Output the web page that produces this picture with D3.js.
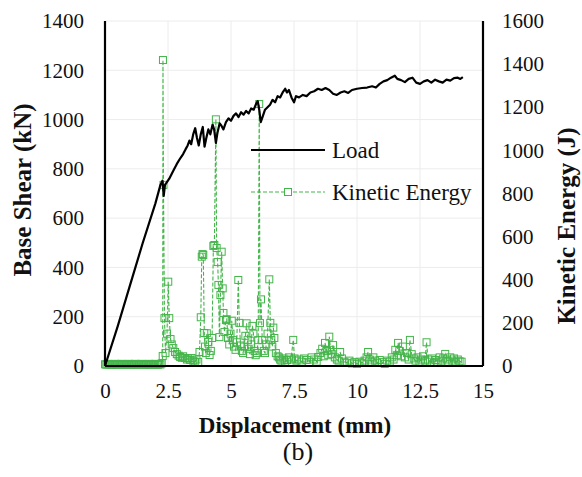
<!DOCTYPE html>
<html>
<head>
<meta charset="utf-8">
<script src="https://cdn.jsdelivr.net/npm/d3@7"></script>
<style>
  body { margin: 0; background: #fff; }
  svg text { font-family: "Liberation Serif", "Times New Roman", serif !important; fill: #111; }
</style>
</head>
<body>
<svg id="svg" width="582" height="477"></svg>
<script>
// load curve (displacement mm, base shear kN)
const loadX = [0, 0.5, 1.0, 1.5, 2.0, 2.2, 2.28, 2.33, 2.38, 2.45, 2.55, 2.7, 2.85, 3.0, 3.1, 3.2, 3.28, 3.35, 3.42, 3.5, 3.58, 3.65, 3.72, 3.8, 3.88, 3.95, 4.02, 4.1, 4.18, 4.27, 4.33, 4.4, 4.46, 4.55, 4.62, 4.7, 4.8, 4.9, 5.0, 5.1, 5.2, 5.3, 5.4, 5.5, 5.6, 5.7, 5.8, 5.9, 6.0, 6.06, 6.12, 6.18, 6.25, 6.35, 6.45, 6.55, 6.65, 6.75, 6.85, 6.95, 7.05, 7.15, 7.22, 7.3, 7.4, 7.5, 7.58, 7.7, 7.85, 8.0, 8.15, 8.3, 8.45, 8.6, 8.75, 8.9, 9.05, 9.2, 9.35, 9.5, 9.65, 9.8, 10.0, 10.2, 10.4, 10.6, 10.75, 10.9, 11.05, 11.2, 11.35, 11.5, 11.6, 11.75, 11.9, 12.05, 12.2, 12.35, 12.5, 12.65, 12.8, 12.95, 13.1, 13.25, 13.4, 13.55, 13.7, 13.85, 14.0, 14.1, 14.2];
const loadY = [0, 160, 330, 500, 660, 735, 752, 690, 735, 745, 760, 790, 820, 845, 860, 880, 895, 915, 900, 940, 965, 925, 895, 940, 970, 890, 925, 960, 940, 980, 960, 905, 945, 985, 975, 960, 990, 1005, 995, 1015, 1025, 1010, 1030, 1020, 1035, 1025, 1045, 1040, 1065, 1075, 1040, 990, 1010, 1040, 1050, 1060, 1080, 1070, 1095, 1090, 1110, 1125, 1110, 1120, 1090, 1070, 1095, 1090, 1100, 1095, 1110, 1115, 1125, 1120, 1128, 1120, 1105, 1100, 1110, 1115, 1108, 1120, 1125, 1128, 1130, 1135, 1130, 1145, 1155, 1160, 1170, 1178, 1165, 1160, 1152, 1165, 1170, 1150, 1145, 1155, 1160, 1150, 1162, 1155, 1150, 1162, 1158, 1168, 1170, 1165, 1172];

// kinetic energy (displacement mm, J)
const keX = [0, 0.05, 0.1, 0.15, 0.2, 0.25, 0.3, 0.35, 0.4, 0.45, 0.5, 0.55, 0.6, 0.65, 0.7, 0.75, 0.8, 0.85, 0.9, 0.95, 1.0, 1.05, 1.1, 1.15, 1.2, 1.25, 1.3, 1.35, 1.4, 1.45, 1.5, 1.55, 1.6, 1.65, 1.7, 1.75, 1.8, 1.85, 1.9, 1.95, 2.0, 2.05, 2.1, 2.15, 2.2, 2.25,
  2.29, 2.3, 2.32, 2.36, 2.4, 2.46, 2.51, 2.55, 2.6, 2.65, 2.71, 2.78, 2.85, 2.92, 2.98, 3.05, 3.1, 3.17, 3.25, 3.3, 3.38, 3.44, 3.5, 3.56, 3.63, 3.7, 3.75, 3.8, 3.84, 3.87, 3.9, 3.94, 3.97, 4.0, 4.04, 4.1, 4.15, 4.2, 4.25, 4.3, 4.34, 4.4, 4.43, 4.47, 4.5, 4.54, 4.58, 4.63, 4.67, 4.7, 4.74, 4.8, 4.83, 4.88, 4.93, 4.98, 5.03, 5.08, 5.12, 5.18, 5.23, 5.29, 5.33, 5.38, 5.43, 5.48, 5.52, 5.57, 5.62, 5.66, 5.7, 5.75, 5.8, 5.85, 5.89, 5.94, 5.98, 6.03, 6.08, 6.12, 6.15, 6.19, 6.24, 6.3, 6.35, 6.4, 6.45, 6.52, 6.56, 6.6, 6.64, 6.68, 6.72, 6.78, 6.85, 6.9, 6.95, 7.0, 7.08, 7.15, 7.22, 7.3, 7.38, 7.47, 7.52, 7.6, 7.7, 7.8, 7.9, 8.0, 8.1, 8.2, 8.3, 8.4, 8.46, 8.55, 8.62, 8.68, 8.73, 8.8, 8.86, 8.9, 8.95, 9.0, 9.05, 9.12, 9.2, 9.27, 9.33, 9.4, 9.5, 9.6, 9.7, 9.8, 9.9, 10.0, 10.1, 10.2, 10.3, 10.38, 10.44, 10.5, 10.58, 10.65, 10.72, 10.8, 10.9, 11.0, 11.1, 11.2, 11.3, 11.38, 11.45, 11.52, 11.58, 11.63, 11.68, 11.75, 11.82, 11.9, 11.98, 12.05, 12.1, 12.17, 12.25, 12.32, 12.4, 12.48, 12.55, 12.62, 12.7, 12.76, 12.82, 12.9, 12.98, 13.05, 13.12, 13.2, 13.28, 13.35, 13.42, 13.5, 13.56, 13.62, 13.7, 13.78, 13.85, 13.92, 14.0, 14.07, 14.15];
const keY = [8, 6, 10, 7, 9, 6, 8, 7, 10, 6, 8, 9, 7, 10, 6, 8, 9, 7, 8, 10, 6, 9, 7, 8, 10, 6, 8, 9, 7, 10, 8, 6, 9, 7, 8, 10, 6, 8, 9, 7, 10, 8, 6, 9, 7, 12,
  46, 1419, 840, 222, 60, 150, 391, 222, 125, 100, 83, 65, 55, 48, 42, 38, 45, 37, 30, 35, 28, 37, 25, 20, 30, 19, 65, 226, 507, 519, 515, 153, 90, 60, 152, 111, 51, 70, 130, 557, 561, 1144, 547, 482, 376, 134, 329, 530, 360, 246, 158, 213, 217, 130, 100, 150, 210, 120, 90, 75, 110, 399, 200, 95, 70, 60, 90, 140, 198, 120, 80, 55, 100, 186, 150, 70, 50, 60, 120, 1215, 199, 309, 120, 70, 60, 100, 150, 402, 200, 120, 90, 178, 130, 60, 45, 40, 30, 25, 35, 20, 28, 40, 30, 121, 35, 25, 30, 20, 35, 28, 18, 40, 30, 20, 42, 60, 80, 45, 107, 70, 50, 136, 75, 55, 97, 40, 30, 25, 65, 35, 20, 15, 25, 12, 18, 10, 20, 15, 25, 40, 65, 30, 20, 40, 25, 15, 28, 18, 10, 25, 20, 40, 30, 75, 50, 107, 70, 45, 90, 40, 60, 30, 121, 55, 35, 25, 40, 20, 30, 45, 25, 110, 30, 20, 35, 15, 28, 20, 40, 25, 35, 56, 30, 20, 40, 25, 35, 18, 30, 22, 20];

const xTicks = [0, 2.5, 5, 7.5, 10, 12.5, 15];
const xTickLabels = ["0", "2.5", "5", "7.5", "10", "12.5", "15"];
const leftTicks = [0, 200, 400, 600, 800, 1000, 1200, 1400];
const rightTicks = [0, 200, 400, 600, 800, 1000, 1200, 1400, 1600];

const green = "#44b54a";
const svg = d3.select("#svg");
const pLeft = 105, pRight = 483, pTop = 21, pBottom = 366;

const x = d3.scaleLinear().domain([0, 15]).range([pLeft, pRight]);
const yL = d3.scaleLinear().domain([0, 1400]).range([pBottom, pTop]);
const yR = d3.scaleLinear().domain([0, 1600]).range([pBottom, pTop]);

// grid
const grid = svg.append("g").attr("stroke", "#ececec").attr("stroke-width", 1);
grid.selectAll("line.h").data(leftTicks.slice(1)).join("line")
  .attr("x1", pLeft).attr("x2", pRight)
  .attr("y1", d => yL(d)).attr("y2", d => yL(d));
grid.selectAll("line.v").data(xTicks.slice(1, -1)).join("line")
  .attr("y1", pTop).attr("y2", pBottom)
  .attr("x1", d => x(d)).attr("x2", d => x(d));

// kinetic energy series
const keData = keX.map((d, i) => [d, keY[i]]);
svg.append("path")
  .datum(keData)
  .attr("fill", "none")
  .attr("stroke", green)
  .attr("stroke-width", 1.1)
  .attr("stroke-dasharray", "4,2")
  .attr("d", d3.line().x(d => x(d[0])).y(d => yR(d[1])));
svg.append("g").selectAll("rect").data(keData).join("rect")
  .attr("x", d => x(d[0]) - 3.5).attr("y", d => yR(d[1]) - 3.5)
  .attr("width", 7).attr("height", 7)
  .attr("fill", "none").attr("stroke", green).attr("stroke-width", 1);

// load series
const loadData = loadX.map((d, i) => [d, loadY[i]]);
svg.append("path")
  .datum(loadData)
  .attr("fill", "none")
  .attr("stroke", "#000")
  .attr("stroke-width", 2.2)
  .attr("stroke-linejoin", "round")
  .attr("d", d3.line().x(d => x(d[0])).y(d => yL(d[1])));

// axes
const axisB = svg.append("g").attr("transform", `translate(0,${pBottom})`)
  .call(d3.axisBottom(x).tickValues(xTicks).tickFormat((d, i) => xTickLabels[i]).tickSize(0).tickPadding(17));
const axisL = svg.append("g").attr("transform", `translate(${pLeft},0)`)
  .call(d3.axisLeft(yL).tickValues(leftTicks).tickFormat(d3.format("d")).tickSize(0).tickPadding(21));
const axisR = svg.append("g").attr("transform", `translate(${pRight},0)`)
  .call(d3.axisRight(yR).tickValues(rightTicks).tickFormat(d3.format("d")).tickSize(0).tickPadding(19));
[axisB, axisL, axisR].forEach(a => {
  a.select(".domain").attr("stroke", "#000").attr("stroke-width", 2.2);
  a.selectAll("text").style("font-size", "21px");
});
axisB.select(".domain").attr("d", `M${pLeft},0H${pRight}`);
axisL.select(".domain").attr("d", `M0,${pTop}V${pBottom}`);
axisR.select(".domain").attr("d", `M0,${pTop}V${pBottom}`);

// titles
svg.append("text").attr("transform", "translate(31,190) rotate(-90)")
  .attr("text-anchor", "middle").style("font-weight", "bold").style("font-size", "25px")
  .text("Base Shear (kN)");
svg.append("text").attr("transform", "translate(575,226) rotate(-90)")
  .attr("text-anchor", "middle").style("font-weight", "bold").style("font-size", "25px")
  .text("Kinetic Energy (J)");
svg.append("text").attr("x", 295).attr("y", 433)
  .attr("text-anchor", "middle").style("font-weight", "bold").style("font-size", "23px")
  .text("Displacement (mm)");
svg.append("text").attr("x", 298).attr("y", 460)
  .attr("text-anchor", "middle").style("font-size", "26px")
  .text("(b)");

// legend
const lg = svg.append("g");
lg.append("line").attr("x1", 251).attr("x2", 325).attr("y1", 150).attr("y2", 150)
  .attr("stroke", "#000").attr("stroke-width", 2.2);
lg.append("text").attr("x", 332).attr("y", 158).style("font-size", "23px").text("Load");
lg.append("line").attr("x1", 251).attr("x2", 325).attr("y1", 192).attr("y2", 192)
  .attr("stroke", green).attr("stroke-width", 1.1).attr("stroke-dasharray", "4,2");
lg.append("rect").attr("x", 284.5).attr("y", 188.5).attr("width", 7).attr("height", 7)
  .attr("fill", "#fff").attr("stroke", green);
lg.append("text").attr("x", 332).attr("y", 200).style("font-size", "23px").text("Kinetic Energy");
</script>
</body>
</html>
